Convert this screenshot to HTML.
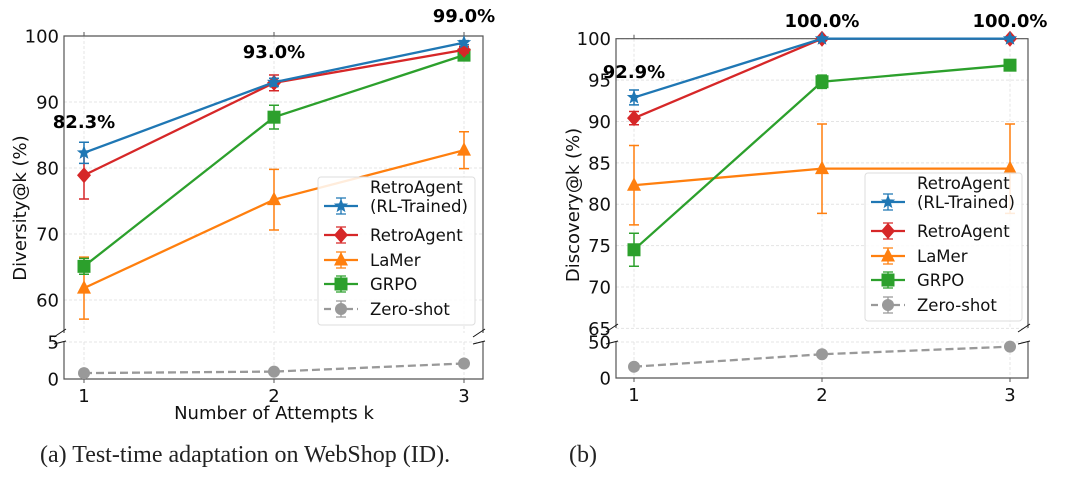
<!DOCTYPE html>
<html><head><meta charset="utf-8"><style>
body{margin:0;background:#fff;width:1080px;height:475px;overflow:hidden;font-family:"DejaVu Sans","Liberation Sans",sans-serif}
svg text{font-family:"DejaVu Sans","Liberation Sans",sans-serif}
</style></head><body>
<svg id="s" width="1080" height="475" xmlns="http://www.w3.org/2000/svg"></svg>
<script>
const ks=[1,2,3];
const seriesNames=["RetroAgent (RL-Trained)","RetroAgent","LaMer","GRPO","Zero-shot"];
const colors=["#1f77b4","#d62728","#ff7f0e","#2ca02c","#999999"];
const divRL=[82.3,93.0,99.0], divRLerr=[1.6,0.6,0.3];
const divRA=[78.9,92.9,97.9], divRAerr=[3.6,1.2,0.5];
const divLM=[61.8,75.2,82.7], divLMerr=[4.7,4.6,2.8];
const divGR=[65.1,87.7,97.1], divGRerr=[1.2,1.8,0.5];
const divZS=[0.8,1.0,2.1], divZSerr=[0.2,0.2,0.2];
const disRL=[92.9,100,100], disRLerr=[0.9,0,0];
const disRA=[90.4,100,100], disRAerr=[0.8,0,0];
const disLM=[82.3,84.3,84.3], disLMerr=[4.8,5.4,5.4];
const disGR=[74.5,94.8,96.8], disGRerr=[2.0,0.8,0.6];
const disZS=[15.7,33,43.5], disZSerr=[2,3,2];
const divTopTicks=[60,70,80,90,100], divBotTicks=[0,5];
const disTopTicks=[65,70,75,80,85,90,95,100], disBotTicks=[0,50];
const divLabels=["82.3%","93.0%","99.0%"], disLabels=["92.9%","100.0%","100.0%"];

const S=document.getElementById('s');const NS="http://www.w3.org/2000/svg";
function el(t,a,p){const e=document.createElementNS(NS,t);for(const k in a)e.setAttribute(k,a[k]);(p||S).appendChild(e);return e;}
function txt(x,y,s,a,p){const e=el('text',Object.assign({x:x,y:y},a),p);e.textContent=s;return e;}

function marker(g,i,x,y){
  const c=colors[i];
  if(i==0){const pts=[];for(let j=0;j<10;j++){const r=j%2?3.2:7.5,a=-Math.PI/2+j*Math.PI/5;pts.push((x+r*Math.cos(a))+','+(y+r*Math.sin(a)));}return el('polygon',{points:pts.join(' '),fill:c},g);}
  if(i==1)return el('polygon',{points:`${x},${y-8} ${x+7},${y} ${x},${y+8} ${x-7},${y}`,fill:c},g);
  if(i==2)return el('polygon',{points:`${x},${y-8} ${x+7},${y+5.5} ${x-7},${y+5.5}`,fill:c},g);
  if(i==3)return el('rect',{x:x-6.5,y:y-6.5,width:13,height:13,fill:c},g);
  return el('circle',{cx:x,cy:y,r:6,fill:c},g);
}

function panel(cfg){
  const g=el('g',{});
  
  
  const X=k=>cfg.x1+(k-1)*(cfg.x3-cfg.x1)/2;
  const YT=v=>cfg.yTop+(cfg.tMax-v)*(cfg.yTopMin-cfg.yTop)/(cfg.tMax-cfg.tMin);
  const YB=v=>cfg.bBot+(cfg.bTop-cfg.bBot)*(v/cfg.bMax);
  for(const k of ks){el('line',{x1:X(k),x2:X(k),y1:cfg.yTop,y2:cfg.topEnd,stroke:'#e4e4e4','stroke-dasharray':'3 2'},g);el('line',{x1:X(k),x2:X(k),y1:cfg.bTop,y2:cfg.bBot,stroke:'#e4e4e4','stroke-dasharray':'3 2'},g);}
  for(const t of cfg.tTicks){el('line',{x1:cfg.L,x2:cfg.R,y1:YT(t),y2:YT(t),stroke:'#e4e4e4','stroke-dasharray':'3 2'},g);
    const tl=txt(cfg.L-5,YT(t)+6.5,String(t),{'font-size':18,'text-anchor':'end',fill:'#111'},g);
    }
  for(const t of cfg.bTicks){el('line',{x1:cfg.L,x2:cfg.R,y1:YB(t),y2:YB(t),stroke:'#e4e4e4','stroke-dasharray':'3 2'},g);
    const tl=txt(cfg.L-5,YB(t)+6.5,String(t),{'font-size':18,'text-anchor':'end',fill:'#111'},g);
    }
  el('polyline',{points:`${cfg.L},${cfg.topEnd} ${cfg.L},${cfg.yTop} ${cfg.R},${cfg.yTop} ${cfg.R},${cfg.topEnd}`,fill:'none',stroke:'#555','stroke-width':1.2},g);
  el('polyline',{points:`${cfg.L},${cfg.bTop} ${cfg.L},${cfg.bBot} ${cfg.R},${cfg.bBot} ${cfg.R},${cfg.bTop}`,fill:'none',stroke:'#555','stroke-width':1.2},g);
  for(const xx of [cfg.L,cfg.R]){
    el('line',{x1:xx-10,x2:xx+2,y1:cfg.topEnd+4,y2:cfg.topEnd-4,stroke:'#111','stroke-width':1},g);
    el('line',{x1:xx-10,x2:xx+2,y1:cfg.bTop+2,y2:cfg.bTop-1,stroke:'#111','stroke-width':1},g);
  }
  for(const k of ks){el('line',{x1:X(k),x2:X(k),y1:cfg.bBot,y2:cfg.bBot+4,stroke:'#555'},g);el('line',{x1:X(k),x2:X(k),y1:cfg.yTop,y2:cfg.yTop-4,stroke:'#555'},g);
    const tl=txt(X(k),cfg.bBot+23,String(k),{'font-size':18,'text-anchor':'middle',fill:'#111'},g);
    }
  const order=[2,3,1,0];
  for(const i of order){
    const vals=cfg.data[i][0],errs=cfg.data[i][1];
    const s=el('g',{},g);
    el('polyline',{points:ks.map((k,j)=>X(k)+','+YT(vals[j])).join(' '),fill:'none',stroke:colors[i],'stroke-width':2.3},s);
    ks.forEach((k,j)=>{const x=X(k),a=YT(vals[j]+errs[j]),b=YT(vals[j]-errs[j]);
      el('path',{d:`M${x},${a}V${b}M${x-5},${a}H${x+5}M${x-5},${b}H${x+5}`,stroke:colors[i],'stroke-width':1.5,fill:'none'},s);
      const m=marker(s,i,x,YT(vals[j]));});
  }
  const zv=cfg.data[4][0],ze=cfg.data[4][1];
  const zs=el('g',{},g);
  el('polyline',{points:ks.map((k,j)=>X(k)+','+YB(zv[j])).join(' '),fill:'none',stroke:'#999','stroke-width':2.3,'stroke-dasharray':'8 4'},zs);
  ks.forEach((k,j)=>{const x=X(k),a=YB(zv[j]+ze[j]),b=YB(zv[j]-ze[j]);
    el('path',{d:`M${x},${a}V${b}M${x-5},${a}H${x+5}M${x-5},${b}H${x+5}`,stroke:'#999','stroke-width':1.5},zs);
    const m=marker(zs,4,x,YB(zv[j]));});
  ks.forEach((k,j)=>{const t=txt(X(k)+cfg.annDx[j],cfg.annY[j],cfg.labels[j],{'font-size':18,'font-weight':'bold','text-anchor':'middle',fill:'#000'},g);
    });
  const yl=txt(0,0,cfg.ylabel,{'font-size':18,'text-anchor':'middle',fill:'#111',transform:`translate(${cfg.ylx},${cfg.yly}) rotate(-90)`},g);
  
  const lg=el('g',{},g);
  el('rect',{x:cfg.lx,y:cfg.ly,width:cfg.lw,height:148,rx:3,fill:'#fff','fill-opacity':0.85,stroke:'#ddd'},lg);
  const rows=[[0,20],[1,58],[2,83],[3,107],[4,132]];
  for(const [i,dy] of rows){
    const e=el('g',{},lg);
    const y=cfg.ly+dy+(i==0?9:0),x0=cfg.lx+6,x1=cfg.lx+40,xm=(x0+x1)/2;
    el('line',{x1:x0,x2:x1,y1:y,y2:y,stroke:colors[i],'stroke-width':2.3,'stroke-dasharray':i==4?'7 4':''},e);
    el('path',{d:`M${xm},${y-8}V${y+8}M${xm-5},${y-8}H${xm+5}M${xm-5},${y+8}H${xm+5}`,stroke:colors[i],'stroke-width':1.3},e);
    marker(e,i,xm,y);
    if(i==0){txt(cfg.lx+52,cfg.ly+16,'RetroAgent',{'font-size':16.5,fill:'#111'},e);txt(cfg.lx+52,cfg.ly+35,'(RL-Trained)',{'font-size':16.5,fill:'#111'},e);}
    else txt(cfg.lx+52,y+6,seriesNames[i],{'font-size':16.5,fill:'#111'},e);
  }
}

panel({name:'diversity-chart',L:64,R:483,x1:84,x3:464,yTop:36,yTopMin:300,tMax:100,tMin:60,topEnd:333,bTop:342,bBot:379,bMax:5,
  tTicks:divTopTicks,bTicks:divBotTicks,data:[[divRL,divRLerr],[divRA,divRAerr],[divLM,divLMerr],[divGR,divGRerr],[divZS,divZSerr]],
  labels:divLabels,annDx:[0,0,0],annY:[128,58,22],ylabel:'Diversity@k (%)',ylx:26,yly:208,lx:318,ly:177,lw:157});
panel({name:'discovery-chart',L:616,R:1028,x1:634,x3:1010,yTop:38.7,yTopMin:287,tMax:100,tMin:70,topEnd:328,bTop:342,bBot:378,bMax:50,
  tTicks:disTopTicks,bTicks:disBotTicks,data:[[disRL,disRLerr],[disRA,disRAerr],[disLM,disLMerr],[disGR,disGRerr],[disZS,disZSerr]],
  labels:disLabels,annDx:[0,0,0],annY:[78,27,27],ylabel:'Discovery@k (%)',ylx:579,yly:205,lx:865,ly:173,lw:157});

const xl=txt(274,419,'Number of Attempts k',{'font-size':18,'text-anchor':'middle',fill:'#111'});

const c1=txt(40,462,'(a) Test-time adaptation on WebShop (ID).',{'font-size':24,fill:'#222',style:'font-family:"Liberation Serif",serif'});

const c2=txt(569,462,'(b)',{'font-size':24,fill:'#222',style:'font-family:"Liberation Serif",serif'});

</script>
</body></html>
